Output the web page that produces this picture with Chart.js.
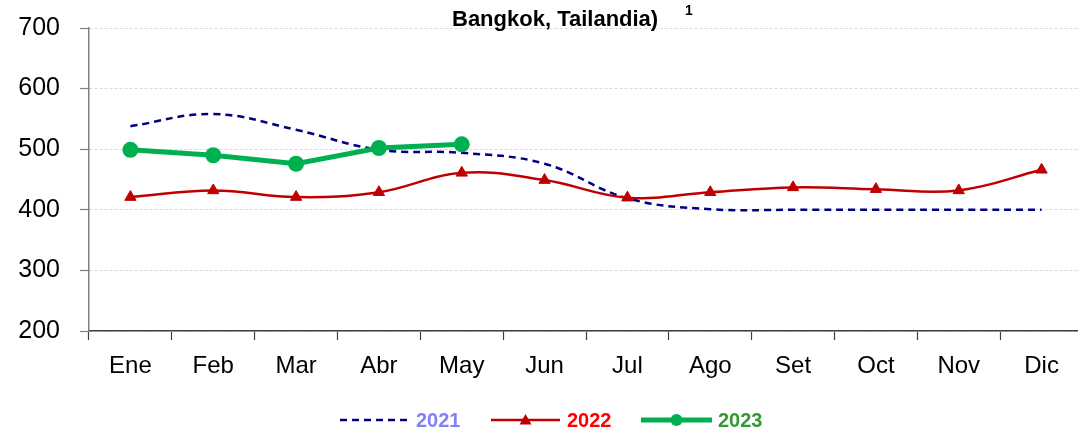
<!DOCTYPE html>
<html>
<head>
<meta charset="utf-8">
<script src="https://cdn.jsdelivr.net/npm/chart.js@4/dist/chart.umd.min.js"></script>
<style>
  html, body { margin: 0; padding: 0; background: #fff; overflow: hidden; }
  #wrap { width: 1091px; height: 432px; }
</style>
</head>
<body>
<div id="wrap"><canvas id="c" width="1091" height="432"></canvas></div>
<script>
const categories = ['Ene','Feb','Mar','Abr','May','Jun','Jul','Ago','Set','Oct','Nov','Dic'];
const values2021 = [538, 558, 532, 499, 494, 476, 419, 401, 400, 400, 400, 400];
const values2022 = [421, 432, 421, 429, 461, 449, 420, 429, 437, 434, 432, 466];
const values2023 = [499, 490, 476, 502, 508];
const seriesNames = ['2021', '2022', '2023'];
const legendTextColors = ['#8080FF', '#FF0000', '#339933'];
const yTicks = [200, 300, 400, 500, 600, 700];
const titleText = 'Bangkok, Tailandia)';
const titleNote = '1';

const FONT = '"Liberation Sans", Arial, sans-serif';

const titlePlugin = {
  id: 'titleDraw',
  afterDraw(chart) {
    const ctx = chart.ctx;
    ctx.save();
    ctx.fillStyle = '#000';
    ctx.textBaseline = 'alphabetic';
    ctx.textAlign = 'left';
    ctx.font = 'bold 22px ' + FONT;
    ctx.fillText(titleText, 452, 26);
    ctx.font = 'bold 14px ' + FONT;
    ctx.fillText(titleNote, 685, 15);
    ctx.restore();
  }
};

const legendPlugin = {
  id: 'customLegend',
  afterDraw(chart) {
    const ctx = chart.ctx;
    const items = [
      {x0: 340, x1: 408, tx: 416},
      {x0: 491, x1: 560, tx: 567},
      {x0: 641, x1: 712, tx: 718}
    ];
    const y = 420;
    chart.data.datasets.forEach((ds, i) => {
      const it = items[i];
      ctx.save();
      ctx.strokeStyle = ds.borderColor;
      ctx.lineWidth = ds.borderWidth;
      ctx.setLineDash(ds.borderDash || []);
      ctx.beginPath();
      ctx.moveTo(it.x0, y);
      ctx.lineTo(it.x1, y);
      ctx.stroke();
      ctx.setLineDash([]);
      const cx = (it.x0 + it.x1) / 2;
      ctx.fillStyle = ds.pointBackgroundColor;
      if (ds.pointStyle === 'triangle') {
        const r = 6;
        ctx.beginPath();
        ctx.moveTo(cx, y - r);
        ctx.lineTo(cx + r, y + r * 0.75);
        ctx.lineTo(cx - r, y + r * 0.75);
        ctx.closePath();
        ctx.fill();
      } else if (ds.pointStyle === 'circle' && ds.pointRadius > 0) {
        ctx.beginPath();
        ctx.arc(cx, y, 6, 0, Math.PI * 2);
        ctx.fill();
      }
      ctx.font = 'bold 20px ' + FONT;
      ctx.fillStyle = legendTextColors[i];
      ctx.textBaseline = 'middle';
      ctx.textAlign = 'left';
      ctx.fillText(seriesNames[i], it.tx, y + 1);
      ctx.restore();
    });
  }
};

new Chart(document.getElementById('c'), {
  type: 'line',
  data: {
    labels: categories,
    datasets: [
      {
        label: seriesNames[0],
        data: values2021,
        borderColor: '#000080',
        backgroundColor: '#000080',
        borderWidth: 2.5,
        borderDash: [7, 5],
        pointRadius: 0,
        pointStyle: 'circle',
        pointBackgroundColor: '#000080',
        tension: 0.4,
        order: 3
      },
      {
        label: seriesNames[1],
        data: values2022,
        borderColor: '#C00000',
        backgroundColor: '#C00000',
        borderWidth: 2.5,
        pointStyle: 'triangle',
        pointRadius: 6.5,
        pointBackgroundColor: '#C00000',
        pointBorderColor: '#C00000',
        pointBorderWidth: 1,
        tension: 0.4,
        order: 2
      },
      {
        label: seriesNames[2],
        data: values2023,
        borderColor: '#00B050',
        backgroundColor: '#00B050',
        borderWidth: 5,
        pointStyle: 'circle',
        pointRadius: 8,
        pointBackgroundColor: '#00B050',
        pointBorderColor: '#00B050',
        pointBorderWidth: 0,
        tension: 0,
        order: 1
      }
    ]
  },
  options: {
    responsive: false,
    animation: false,
    layout: { padding: { top: 28, right: 0, bottom: 0, left: 0 } },
    plugins: {
      legend: { display: false },
      title: { display: false },
      tooltip: { enabled: false }
    },
    scales: {
      x: {
        offset: true,
        grid: {
          offset: true,
          drawOnChartArea: false,
          drawTicks: true,
          tickLength: 9,
          tickColor: '#404040',
          tickWidth: 1.2
        },
        border: { color: '#404040', width: 1.5 },
        ticks: {
          color: '#000',
          font: { family: FONT, size: 24 },
          padding: 12,
          maxRotation: 0,
          autoSkip: false
        },
        afterFit(scale) { scale.height = 101; }
      },
      y: {
        min: 200,
        max: 700,
        afterBuildTicks(scale) { scale.ticks = yTicks.map(v => ({ value: v })); },
        grid: {
          color: '#d9d9d9',
          lineWidth: 1,
          drawTicks: true,
          tickLength: 9,
          tickColor: '#808080',
          tickWidth: 1.2,
          tickBorderDash: []
        },
        border: { color: '#808080', width: 1.5, dash: [3, 2] },
        ticks: {
          color: '#000',
          font: { family: FONT, size: 25 },
          padding: 20
        },
        afterFit(scale) {
          scale.width = 89;
          scale.paddingTop = 0;
          scale.paddingBottom = 0;
        }
      }
    }
  },
  plugins: [titlePlugin, legendPlugin]
});
</script>
</body>
</html>
